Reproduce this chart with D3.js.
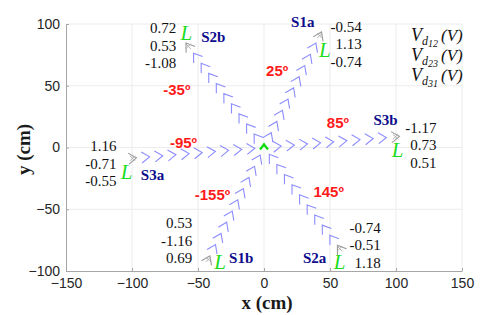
<!DOCTYPE html>
<html>
<head>
<meta charset="utf-8">
<script src="https://cdn.jsdelivr.net/npm/d3@7"></script>
<style>
  body { margin: 0; background: #fff; }
  svg { display: block; }
</style>
</head>
<body>
<svg id="chart" width="480" height="315"></svg>
<script>
// line directions, degrees clockwise from +y (direction of travel along each line)
const lineNames = ["S1", "S2", "S3"];
const lineAngles = [25, -35, 85];
const steps = [-100, -90, -80, -70, -60, -50, -40, -30, -20, -10, 10, 20, 30, 40, 50, 60, 70, 80, 90, 100];

// line ends
const endNames = ["S1a", "S2b", "S3b", "S3a", "S1b", "S2a"];
const endAngles = [25, -35, 85, -95, -155, 145];
const endVd12 = [-0.54, 0.72, -1.17, 1.16, 0.53, -0.74];
const endVd23 = [1.13, 0.53, 0.73, -0.71, -1.16, -0.51];
const endVd31 = [-0.74, -1.08, 0.51, -0.55, 0.69, 1.18];

// angle labels, anchored in data units
const angleLabels = ["25º", "-35º", "85º", "-95º", "-155º", "145º"];
const angleLabelX = [10, -66, 56, -61, -39, 49];
const angleLabelY = [62, 47, 20, 4, -38, -36];

const xTicks = [-150, -100, -50, 0, 50, 100, 150];
const yTicks = [-100, -50, 0, 50, 100];

const margin = {top: 24, right: 18, bottom: 44, left: 66};
const width = 480 - margin.left - margin.right;
const height = 315 - margin.top - margin.bottom;

const svg = d3.select("#chart");
const g = svg.append("g").attr("transform", `translate(${margin.left},${margin.top})`);

const x = d3.scaleLinear().domain([-150, 150]).range([0, width]);
const y = d3.scaleLinear().domain([-100, 100]).range([height, 0]);

// grid
g.append("g").selectAll("line").data(xTicks.slice(1)).join("line")
    .attr("x1", d => x(d)).attr("x2", d => x(d))
    .attr("y1", 0).attr("y2", height)
    .attr("stroke", "#ececec").attr("stroke-width", 1);
g.append("g").selectAll("line").data(yTicks.slice(1)).join("line")
    .attr("y1", d => y(d)).attr("y2", d => y(d))
    .attr("x1", 0).attr("x2", width)
    .attr("stroke", "#ececec").attr("stroke-width", 1);

// axes
const xAxis = d3.axisBottom(x).tickValues(xTicks).tickSizeInner(-3).tickSizeOuter(0).tickPadding(7);
const yAxis = d3.axisLeft(y).tickValues(yTicks).tickSizeInner(-3).tickSizeOuter(0).tickPadding(6);

const gx = g.append("g").attr("transform", `translate(0,${height})`).call(xAxis);
const gy = g.append("g").call(yAxis);
[gx, gy].forEach(a => {
    a.select(".domain").attr("stroke", "#a6a6a6");
    a.selectAll(".tick line").attr("stroke", "#a6a6a6");
    a.selectAll(".tick text")
        .attr("fill", "#262626")
        .style("font-family", "'Liberation Sans', Arial, sans-serif")
        .style("font-size", "14px");
});

g.append("text")
    .attr("x", x(0) + 3).attr("y", height + 38)
    .attr("text-anchor", "middle")
    .style("font-family", "'Liberation Serif', serif")
    .style("font-size", "19px").style("font-weight", "bold")
    .attr("fill", "#1a1a1a")
    .text("x (cm)");
g.append("text")
    .attr("transform", `translate(${-36},${y(0) + 2}) rotate(-90)`)
    .attr("text-anchor", "middle")
    .style("font-family", "'Liberation Serif', serif")
    .style("font-size", "19px").style("font-weight", "bold")
    .attr("fill", "#1a1a1a")
    .text("y (cm)");

const rad = a => a * Math.PI / 180;

// chevrons along each line
const pts = [];
lineAngles.forEach((a, i) => {
    steps.forEach(t => {
        pts.push({line: lineNames[i], angle: a, t: t, end: Math.abs(t) === 100});
    });
});

const chevron = "M-4,-5.5L4,0L-4,5.5";
const marks = g.append("g");
marks.selectAll("path.chev").data(pts).join("path")
    .attr("class", "chev")
    .attr("d", chevron)
    .attr("fill", "none")
    .attr("stroke", d => d.end ? "#9a9a9a" : "#8c8cff")
    .attr("stroke-width", 1.1)
    .attr("transform", d => {
        const px = x(d.t * Math.sin(rad(d.angle)));
        const py = y(d.t * Math.cos(rad(d.angle)));
        const rot = d.angle - 90;
        return `translate(${px},${py}) rotate(${rot})`;
    });

// end crosses
const ends = pts.filter(d => d.end);
marks.selectAll("path.cross").data(ends).join("path")
    .attr("class", "cross")
    .attr("d", "M-2.5,-2.5L2.5,2.5M-2.5,2.5L2.5,-2.5")
    .attr("stroke", "#b0b0b0").attr("stroke-width", 1)
    .attr("transform", d => `translate(${x(d.t * Math.sin(rad(d.angle)))},${y(d.t * Math.cos(rad(d.angle)))})`);

// origin marker
g.append("path")
    .attr("d", "M-4,3L0,-2L4,3")
    .attr("fill", "none").attr("stroke", "#11dd11").attr("stroke-width", 2.4)
    .attr("transform", `translate(${x(0)},${y(0) - 1})`);

// text offsets (pixels) relative to each end point
const layout = {
    S1a: {L: [5, 14], name: [-17, -14], vals: [42, -9]},
    S2b: {L: [-2, -13], name: [25, -9], vals: [-12, -18]},
    S3b: {L: [2, 13], name: [-10, -17], vals: [41, -9]},
    S3a: {L: [-6, 14], name: [20, 17], vals: [-16, -12]},
    S1b: {L: [12, 3], name: [33, -1], vals: [-16, -36]},
    S2a: {L: [0, 13], name: [-25, 9], vals: [41, -21]}
};

const fmt = v => v.toFixed(2);

endNames.forEach((name, i) => {
    const a = endAngles[i];
    const px = x(100 * Math.sin(rad(a)));
    const py = y(100 * Math.cos(rad(a)));
    const lay = layout[name];

    g.append("text")
        .attr("x", px + lay.L[0]).attr("y", py + lay.L[1])
        .attr("text-anchor", "middle").attr("dominant-baseline", "central")
        .style("font-family", "'Liberation Serif', serif")
        .style("font-style", "italic").style("font-size", "21px")
        .attr("fill", "#1edc1e")
        .text("L");

    g.append("text")
        .attr("x", px + lay.name[0]).attr("y", py + lay.name[1])
        .attr("text-anchor", "middle").attr("dominant-baseline", "central")
        .style("font-family", "'Liberation Serif', serif")
        .style("font-weight", "bold").style("font-size", "15px")
        .attr("fill", "#0c0c8c")
        .text(name);

    const vals = [endVd12[i], endVd23[i], endVd31[i]];
    g.append("g").selectAll("text").data(vals).join("text")
        .attr("x", px + lay.vals[0])
        .attr("y", (d, k) => py + lay.vals[1] + k * 17.5)
        .attr("text-anchor", "end").attr("dominant-baseline", "central")
        .style("font-family", "'Liberation Serif', serif")
        .style("font-size", "15px")
        .attr("fill", "#111")
        .text(fmt);
});

// angle labels
g.append("g").selectAll("text").data(angleLabels).join("text")
    .attr("x", (d, i) => x(angleLabelX[i]))
    .attr("y", (d, i) => y(angleLabelY[i]))
    .attr("text-anchor", "middle").attr("dominant-baseline", "central")
    .style("font-family", "'Liberation Sans', Arial, sans-serif")
    .style("font-weight", "bold").style("font-size", "15px")
    .attr("fill", "#ff1a1a")
    .text(d => d);

// legend
const legendSubs = ["12", "23", "31"];
const legend = svg.append("g");
legendSubs.forEach((s, i) => {
    const t = legend.append("text")
        .attr("x", 411).attr("y", 41 + i * 20)
        .style("font-family", "'Liberation Serif', serif")
        .style("font-style", "italic")
        .attr("fill", "#111");
    t.append("tspan").style("font-size", "18px").text("V");
    t.append("tspan").attr("dy", 4).style("font-size", "12px").text("d");
    t.append("tspan").attr("dy", 2).style("font-size", "10px").text(s);
    t.append("tspan").attr("dy", -6).attr("dx", 3).style("font-size", "17px").text("(V)");
});
</script>
</body>
</html>
